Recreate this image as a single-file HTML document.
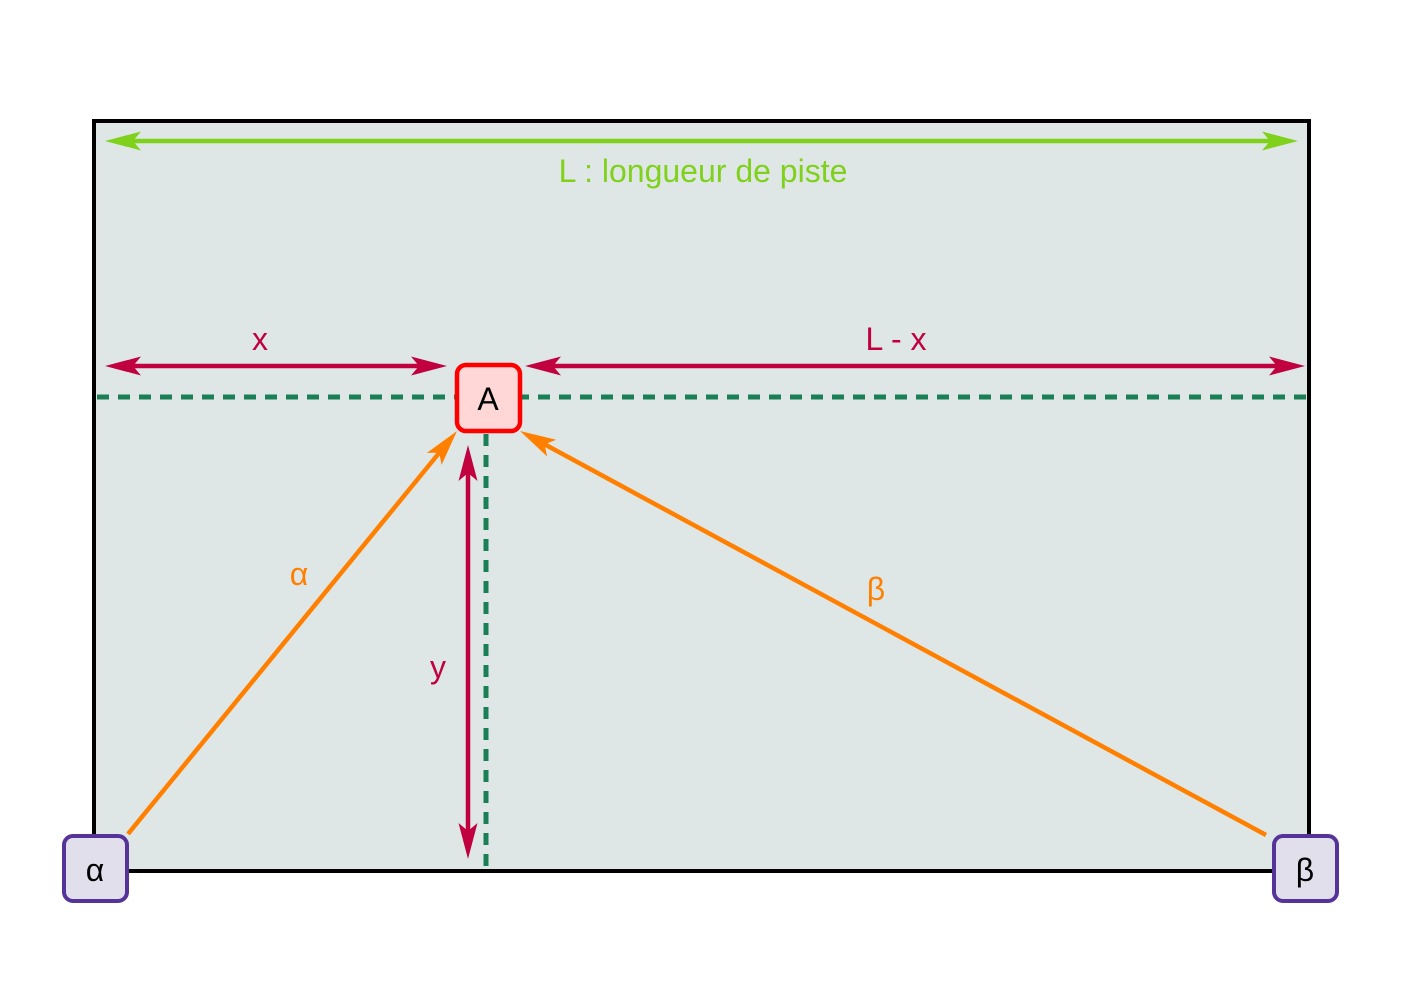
<!DOCTYPE html>
<html><head><meta charset="utf-8"><style>
html,body{margin:0;padding:0;background:#fff}
svg{display:block}
text{font-family:"Liberation Sans",sans-serif}
</style></head><body>
<svg id="s" width="1403" height="992" viewBox="0 0 1403 992">
<rect x="94" y="121" width="1215" height="750" fill="#dfe7e6" stroke="#000" stroke-width="4"/>
<text x="703" y="182" font-size="32" fill="#7fd11b" text-anchor="middle">L : longueur de piste</text>
<text x="260" y="350" font-size="32" fill="#c0003f" text-anchor="middle">x</text>
<text x="896" y="350" font-size="32" fill="#c0003f" text-anchor="middle">L - x</text>
<line x1="97" y1="397" x2="1307" y2="397" stroke="#1a7f55" stroke-width="5" stroke-dasharray="12,9"/>
<line x1="486" y1="434" x2="486" y2="868" stroke="#1a7f55" stroke-width="5" stroke-dasharray="12,9"/>
<text x="438" y="678" font-size="32" fill="#c0003f" text-anchor="middle">y</text>
<text x="299" y="585" font-size="32" fill="#ff8000" text-anchor="middle">α</text>
<text x="876" y="600" font-size="32" fill="#ff8000" text-anchor="middle">β</text>
<g id="arrows"></g>
<g>
<rect x="457" y="365" width="63" height="66" rx="9" fill="#ffd7d7" stroke="#ff0000" stroke-width="4.5"/>
<text x="488" y="410" font-size="32" fill="#000" text-anchor="middle">A</text>
</g>
<g>
<rect x="64" y="836" width="63" height="65" rx="9" fill="#e0dfeb" stroke="#553399" stroke-width="4"/>
<text x="95" y="881" font-size="32" fill="#000" text-anchor="middle">α</text>
</g>
<g>
<rect x="1274" y="836" width="63" height="65" rx="9" fill="#e0dfeb" stroke="#553399" stroke-width="4"/>
<text x="1305" y="881" font-size="32" fill="#000" text-anchor="middle">β</text>
</g>
</svg>
<script>
const NS='http://www.w3.org/2000/svg';
const g=document.getElementById('arrows');
function head(x,y,ux,uy,color){
  const L=36,W=9.5,N=8,px=-uy,py=ux;
  const p=document.createElementNS(NS,'path');
  const bx=x-ux*L,by=y-uy*L,nx=x-ux*(L-N),ny=y-uy*(L-N);
  p.setAttribute('d',`M${x},${y} L${bx+px*W},${by+py*W} L${nx},${ny} L${bx-px*W},${by-py*W} Z`);
  p.setAttribute('fill',color);
  return p;
}
function arrow(name,x1,y1,x2,y2,color,both){
  const grp=document.createElementNS(NS,'g');
  
  
  const dx=x2-x1,dy=y2-y1,len=Math.hypot(dx,dy),ux=dx/len,uy=dy/len;
  const l=document.createElementNS(NS,'line');
  const s=both?25:0;
  l.setAttribute('x1',x1+ux*s);l.setAttribute('y1',y1+uy*s);
  l.setAttribute('x2',x2-ux*25);l.setAttribute('y2',y2-uy*25);
  l.setAttribute('stroke',color);l.setAttribute('stroke-width','4.5');
  grp.appendChild(l);
  grp.appendChild(head(x2,y2,ux,uy,color));
  if(both)grp.appendChild(head(x1,y1,-ux,-uy,color));
  g.appendChild(grp);
}
arrow('length-arrow',105,141,1298,141,'#7fd11b',true);
arrow('x-arrow',105,366,447,366,'#c0003f',true);
arrow('l-minus-x-arrow',525,366,1305,366,'#c0003f',true);
arrow('y-arrow',468,859,468,445,'#c0003f',true);
arrow('alpha-line',128,834,457,431,'#ff8000',false);
arrow('beta-line',1266,835,520,431,'#ff8000',false);
</script>
</body></html>
